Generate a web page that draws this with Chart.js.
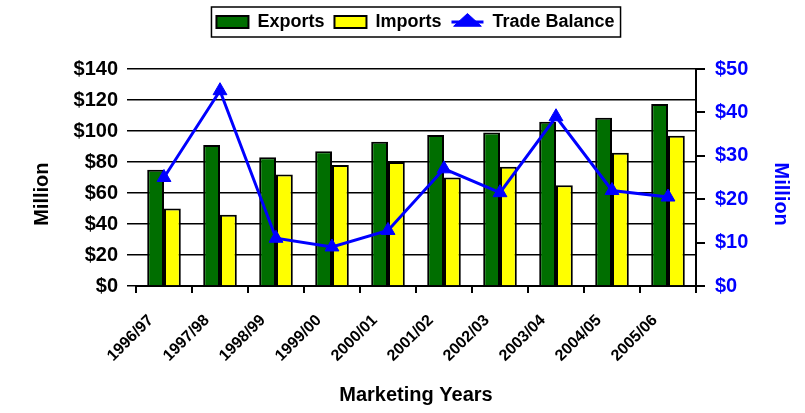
<!DOCTYPE html>
<html lang="en">
<head>
<meta charset="UTF-8">
<title>Exports, Imports and Trade Balance</title>
<script src="https://cdn.jsdelivr.net/npm/chart.js"></script>
<style>
    body { margin: 0; background: #fff; }
    #box { width: 805px; height: 413px; }
</style>
</head>
<body>
<div id="box"><canvas id="grafico" width="805" height="413"></canvas></div>
<script>
    // valores
    var anos = ['1996/97', '1997/98', '1998/99', '1999/00', '2000/01',
                '2001/02', '2002/03', '2003/04', '2004/05', '2005/06'];
    var exportacoes = [75, 91, 83, 87, 93, 97.5, 99, 106, 108.5, 117.5];
    var importacoes = [50, 46, 72, 78, 80, 70, 77, 65, 86, 97];
    var saldo = [25, 45, 11, 9, 12.8, 27, 21.5, 39, 22, 20.5];
    var ticksEsq = [0, 20, 40, 60, 80, 100, 120, 140];
    var ticksDir = [0, 10, 20, 30, 40, 50];

    var fonte = "'Liberation Sans', Arial, sans-serif";
    Chart.defaults.font.family = fonte;
    Chart.defaults.color = '#000';

    // da espaco abaixo da legenda, desenha a moldura e a linha do item "Trade Balance"
    var extrasLegenda = {
        id: 'extrasLegenda',
        beforeLayout: function (chart) {
            var leg = chart.legend;
            if (leg && !leg._esticada) {
                var fitOriginal = leg.fit;
                leg.fit = function () {
                    fitOriginal.call(this);
                    this.height += 28;
                };
                leg._esticada = true;
            }
        },
        afterDraw: function (chart) {
            var leg = chart.legend;
            var caixas = leg.legendHitBoxes;
            if (!caixas || !caixas.length) return;
            var ctx = chart.ctx;
            ctx.save();
            leg.legendItems.forEach(function (item, i) {
                if (item.datasetIndex === 2) {
                    var hb = caixas[i];
                    var yc = hb.top + hb.height / 2;
                    ctx.strokeStyle = '#0000ff';
                    ctx.lineWidth = 3;
                    ctx.beginPath();
                    ctx.moveTo(hb.left, yc);
                    ctx.lineTo(hb.left + 32, yc);
                    ctx.stroke();
                }
            });
            var primeira = caixas[0];
            var ultima = caixas[caixas.length - 1];
            var x0 = primeira.left - 5;
            var x1 = ultima.left + ultima.width + 6;
            ctx.strokeStyle = '#000';
            ctx.lineWidth = 1.5;
            ctx.strokeRect(x0, primeira.top - 6, x1 - x0, primeira.height + 12);
            ctx.restore();
        }
    };

    var data = {
        labels: anos,
        datasets: [{
            type: 'bar',
            label: 'Exports',
            data: exportacoes,
            backgroundColor: '#006e00',
            borderColor: '#000',
            borderWidth: 2,
            pointStyle: 'rect',
            categoryPercentage: 0.6,
            barPercentage: 1.0,
            yAxisID: 'y',
            order: 1
        }, {
            type: 'bar',
            label: 'Imports',
            data: importacoes,
            backgroundColor: '#ffff00',
            borderColor: '#000',
            borderWidth: 2,
            pointStyle: 'rect',
            categoryPercentage: 0.6,
            barPercentage: 1.0,
            yAxisID: 'y',
            order: 1
        }, {
            type: 'line',
            label: 'Trade Balance',
            data: saldo,
            borderColor: '#0000ff',
            backgroundColor: '#0000ff',
            borderWidth: 3,
            pointStyle: 'triangle',
            pointRadius: 8,
            pointBackgroundColor: '#0000ff',
            pointBorderColor: '#0000ff',
            pointBorderWidth: 1,
            tension: 0,
            yAxisID: 'y1',
            order: 0
        }]
    };

    var config = {
        type: 'bar',
        data: data,
        plugins: [extrasLegenda],
        options: {
            responsive: false,
            animation: false,
            layout: { padding: { top: 3, left: 26, right: 0, bottom: 0 } },
            plugins: {
                tooltip: { enabled: false },
                legend: {
                    position: 'top',
                    labels: {
                        usePointStyle: true,
                        pointStyleWidth: 32,
                        boxHeight: 12,
                        padding: 10,
                        color: '#000',
                        font: { size: 18, weight: 'bold' },
                        sort: function (a, b) { return a.datasetIndex - b.datasetIndex; }
                    }
                }
            },
            scales: {
                x: {
                    offset: true,
                    grid: { display: true, drawOnChartArea: false, drawTicks: true, tickLength: 7, color: '#000', lineWidth: 2, offset: true },
                    border: { display: true, color: '#000', width: 2 },
                    ticks: {
                        autoSkip: false,
                        maxRotation: 45,
                        minRotation: 45,
                        padding: 18,
                        labelOffset: -13,
                        color: '#000',
                        font: { size: 16, weight: 'bold' }
                    },
                    title: {
                        display: true,
                        text: 'Marketing Years',
                        color: '#000',
                        font: { size: 20, weight: 'bold' },
                        padding: { top: 0, bottom: 6 }
                    },
                    afterFit: function (scale) { scale.height = 127; }
                },
                y: {
                    position: 'left',
                    min: 0,
                    max: 140,
                    afterBuildTicks: function (scale) {
                        scale.ticks = ticksEsq.map(function (v) { return { value: v }; });
                    },
                    grid: { color: '#000', lineWidth: 1.5, tickLength: 9 },
                    border: { display: false },
                    ticks: {
                        padding: 9,
                        color: '#000',
                        font: { size: 20, weight: 'bold' },
                        callback: function (v) { return '$' + v; }
                    },
                    title: {
                        display: true,
                        text: 'Million      ',
                        color: '#000',
                        font: { size: 20, weight: 'bold' },
                        padding: { top: 4, bottom: 0 }
                    },
                    afterFit: function (scale) { scale.width = 110; }
                },
                y1: {
                    position: 'right',
                    min: 0,
                    max: 50,
                    afterBuildTicks: function (scale) {
                        scale.ticks = ticksDir.map(function (v) { return { value: v }; });
                    },
                    grid: { drawOnChartArea: false, color: '#000', lineWidth: 2, tickLength: 9 },
                    border: { display: true, color: '#000', width: 2 },
                    ticks: {
                        padding: 10,
                        color: '#0000ff',
                        font: { size: 20, weight: 'bold' },
                        callback: function (v) { return '$' + v; }
                    },
                    title: {
                        display: true,
                        text: '      Million',
                        color: '#0000ff',
                        font: { size: 20, weight: 'bold' },
                        padding: { top: 12, bottom: 0 }
                    },
                    afterFit: function (scale) { scale.width = 109; }
                }
            }
        }
    };

    var grafico = new Chart(document.getElementById('grafico'), config);
</script>
</body>
</html>
